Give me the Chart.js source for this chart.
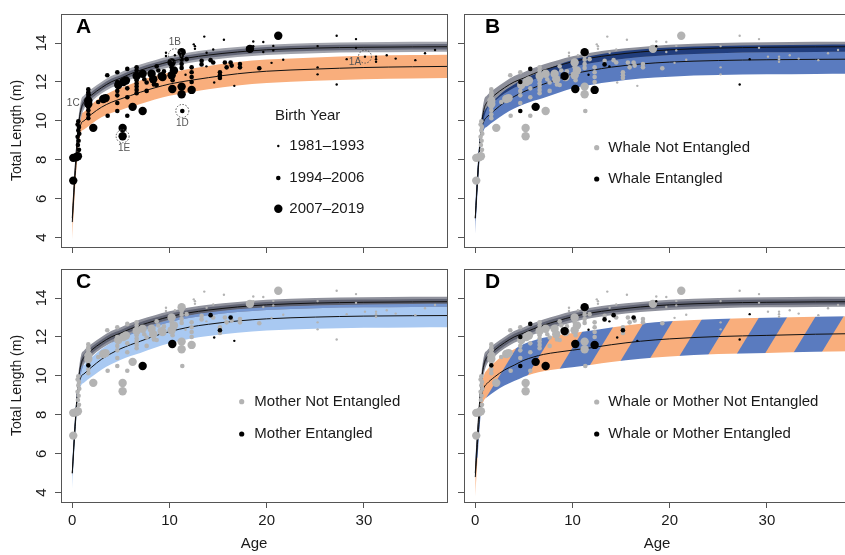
<!DOCTYPE html>
<html lang="en">
<head>
<meta charset="UTF-8" />
<title>Total length by age</title>
<script src="https://cdn.jsdelivr.net/npm/chart.js"></script>
<style>
  html, body { margin: 0; padding: 0; background: #fff; overflow: hidden; }
  #wrap { position: relative; width: 845px; height: 555px; overflow: hidden; }
  canvas { position: absolute; }
</style>
</head>
<body>
<div id="wrap">
  <canvas id="panelA" width="452" height="262" style="left:0;top:0"></canvas>
  <canvas id="panelB" width="452" height="262" style="left:403px;top:0"></canvas>
  <canvas id="panelC" width="452" height="300" style="left:0;top:255px"></canvas>
  <canvas id="panelD" width="452" height="300" style="left:403px;top:255px"></canvas>
</div>
<script>
// axis ticks
const xTicks = [0, 10, 20, 30];
const yTicks = [4, 6, 8, 10, 12, 14];

// fitted growth curves at these ages
const curveAge = [0, 0.3, 0.6, 0.9, 1.2, 2, 3, 4, 5, 6, 7, 8.5, 10, 12, 14, 17, 20, 25, 30, 35, 39];
const curveGray    = [5.0, 7.6, 9.6, 10.6, 10.95, 11.33, 11.7, 12.0, 12.2, 12.42, 12.6, 12.83, 13.04, 13.24, 13.38, 13.54, 13.65, 13.74, 13.78, 13.8, 13.81];
const curveOrangeA = [4.8, 7.2, 9.0, 9.85, 10.0, 10.35, 10.7, 10.95, 11.13, 11.3, 11.47, 11.7, 11.89, 12.07, 12.22, 12.42, 12.55, 12.66, 12.74, 12.78, 12.8];
const curveBlueB   = [5.0, 7.5, 9.4, 10.0, 10.2, 10.55, 10.95, 11.25, 11.5, 11.7, 11.88, 12.15, 12.4, 12.6, 12.76, 12.92, 13.02, 13.1, 13.14, 13.16, 13.17];
const curveBlueC   = [5.0, 7.4, 9.3, 9.95, 10.1, 10.45, 10.85, 11.15, 11.4, 11.6, 11.78, 12.05, 12.27, 12.5, 12.65, 12.82, 12.93, 13.02, 13.07, 13.09, 13.1];
const curveStripeD = [4.8, 7.0, 8.8, 9.4, 9.6, 9.95, 10.3, 10.55, 10.8, 10.97, 11.1, 11.22, 11.32, 11.45, 11.6, 11.78, 11.9, 12.02, 12.08, 12.14, 12.17];

// half widths of the shaded bands
const halfGrayOuter = [0.2, 0.3, 0.35, 0.45, 0.35, 0.32, 0.3, 0.3, 0.3, 0.3, 0.3, 0.29, 0.28, 0.27, 0.27, 0.26, 0.26, 0.26, 0.26, 0.26, 0.26];
const halfGrayInner = [0.1, 0.15, 0.18, 0.2, 0.18, 0.17, 0.16, 0.16, 0.16, 0.16, 0.16, 0.15, 0.15, 0.15, 0.14, 0.14, 0.14, 0.14, 0.14, 0.14, 0.14];
const halfOrangeA   = [0.9, 0.6, 0.5, 0.45, 0.45, 0.5, 0.52, 0.55, 0.57, 0.58, 0.6, 0.6, 0.6, 0.6, 0.6, 0.6, 0.6, 0.6, 0.6, 0.6, 0.6];
const halfBlueB     = [0.8, 0.6, 0.5, 0.45, 0.5, 0.55, 0.6, 0.62, 0.65, 0.67, 0.7, 0.72, 0.73, 0.74, 0.75, 0.75, 0.75, 0.75, 0.75, 0.75, 0.75];
const halfBlueC     = [0.8, 0.55, 0.45, 0.45, 0.45, 0.5, 0.53, 0.55, 0.57, 0.58, 0.6, 0.6, 0.6, 0.6, 0.6, 0.6, 0.6, 0.6, 0.6, 0.6, 0.6];
const halfStripeD   = [1.0, 0.7, 0.6, 0.65, 0.7, 0.75, 0.8, 0.82, 0.84, 0.85, 0.86, 0.87, 0.88, 0.88, 0.89, 0.9, 0.9, 0.9, 0.9, 0.9, 0.9];

// measured whales by birth cohort; ent: 0 none, 1 whale entangled, 2 mother entangled, 3 both
const cohortLabels = ['1981–1993', '1994–2006', '2007–2019'];

const ageEarly = [0.51, 1.82, 9.64, 9.64, 10.56, 11.65, 12.5, 12.62, 12.62, 13.58, 13.8, 13.82, 14.5, 14.6, 15.6, 16.67, 18.62, 18.62, 19.65, 19.65, 20.5, 20.68, 20.68, 21.7, 25.24, 25.24, 25.24, 27.2, 27.2, 28.23, 29.19, 29.19, 30.11, 31.25, 31.25, 31.25, 32.35, 33.27, 35.29, 36.29, 37.32];
const lenEarly = [8.35, 11.34, 13.5, 13.33, 13.37, 12.37, 13.93, 13.83, 13.7, 14.33, 12.8, 13.5, 13.67, 11.97, 14.17, 11.8, 14.08, 13.83, 14.05, 13.54, 12.98, 13.85, 13.62, 13.14, 13.84, 12.75, 12.39, 14.37, 11.87, 13.17, 14.2, 13.75, 13.3, 13.3, 13.17, 13.04, 13.37, 13.2, 13.12, 13.47, 13.64];
const entEarly = [0, 0, 0, 0, 0, 1, 0, 0, 0, 0, 1, 0, 0, 2, 0, 2, 0, 1, 0, 0, 0, 0, 0, 0, 0, 0, 0, 0, 1, 1, 0, 0, 0, 0, 0, 0, 0, 0, 0, 0, 0];

const ageMid = [0.62, 0.55, 0.69, 0.62, 0.72, 0.55, 0.65, 0.58, 0.69, 1.65, 1.65, 1.65, 1.65, 1.65, 1.65, 1.65, 1.65, 2.67, 3.6, 3.64, 4.63, 4.63, 4.63, 4.63, 4.63, 4.63, 5.66, 5.66, 5.66, 5.66, 6.62, 6.62, 6.62, 6.62, 6.62, 6.62, 6.62, 6.62, 6.62, 7.41, 7.65, 7.65, 8.4, 8.68, 8.68, 8.85, 9.43, 10.22, 10.32, 11.25, 11.25, 11.25, 11.25, 11.32, 11.76, 12.28, 12.28, 12.28, 12.28, 13.31, 13.3, 14.23, 14.5, 15.19, 15.19, 15.19, 15.7, 15.88, 16.29, 16.4, 17.25, 17.25, 18.1, 19.24];
const lenMid = [9.98, 9.81, 9.68, 9.51, 9.34, 9.18, 8.98, 8.76, 8.51, 11.62, 11.47, 11.34, 11.21, 10.71, 10.54, 10.34, 10.14, 10.97, 12.34, 10.26, 12.5, 12.0, 11.54, 11.31, 10.92, 10.51, 12.67, 11.67, 11.21, 10.26, 12.75, 12.59, 12.42, 12.25, 12.09, 11.92, 11.76, 11.59, 11.42, 12.14, 11.97, 11.54, 11.87, 12.8, 11.84, 12.59, 12.54, 12.75, 12.09, 13.33, 13.14, 12.92, 12.72, 10.51, 13.17, 12.75, 12.5, 12.25, 12.0, 13.09, 12.9, 13.12, 13.0, 12.5, 12.34, 12.2, 13.0, 12.75, 13.0, 12.84, 12.92, 12.75, 13.67, 12.7];
const entMid = [0, 0, 0, 0, 0, 0, 0, 0, 0, 0, 0, 0, 0, 0, 2, 0, 0, 0, 0, 0, 0, 1, 0, 0, 0, 1, 1, 0, 0, 0, 0, 0, 0, 0, 0, 0, 0, 0, 0, 0, 0, 0, 0, 0, 0, 0, 0, 0, 0, 0, 0, 0, 0, 0, 0, 0, 0, 0, 0, 0, 1, 2, 0, 0, 2, 0, 0, 0, 2, 0, 0, 0, 0, 0];

const ageLate = [0.1, 0.1, 0.38, 0.58, 1.65, 1.65, 2.16, 3.19, 3.43, 4.73, 5.18, 5.18, 5.25, 5.52, 6.21, 6.62, 7.24, 7.24, 8.16, 8.33, 9.19, 9.29, 10.22, 10.22, 10.29, 10.46, 11.25, 11.25, 11.25, 12.28, 18.28, 21.19];
const lenLate = [6.93, 8.1, 8.13, 8.18, 11.04, 10.87, 9.64, 11.12, 11.17, 11.84, 9.63, 9.21, 12.0, 12.07, 10.72, 12.3, 10.51, 12.42, 12.42, 12.14, 12.3, 12.25, 13.0, 12.34, 11.64, 12.59, 13.53, 11.76, 11.37, 11.59, 13.7, 14.37];
const entLate = [0, 0, 0, 0, 0, 0, 0, 0, 0, 0, 0, 0, 0, 0, 1, 0, 2, 0, 0, 0, 1, 0, 0, 0, 3, 0, 1, 0, 0, 1, 0, 0];

// labelled whales in panel A
const annLabel = ['1A', '1B', '1C', '1D', '1E'];
const annAge = [30.11, 10.56, 0.1, 11.32, 5.18];
const annLen = [13.3, 13.37, 10.91, 10.51, 9.21];
const annCircled = [true, true, false, true, true];

Chart.defaults.font.family = '"Liberation Sans", Arial, Helvetica, sans-serif';
Chart.defaults.animation = false;

const xMin = -1.16, xMax = 38.55, yMin = 3.52, yMax = 15.49;
const dotRadius = [1.2, 2.3, 4.2];
const GRAY_DOT = '#b3b3b3';
const ORANGE = '#f9ae7c';
const BLUE = '#5a7bbf';

function xy(xs, ys) { return xs.map((x, i) => ({ x: x, y: ys[i] })); }

function band(lo, hi, color, order) {
  return [
    { data: xy(curveAge, lo), borderWidth: 0, pointRadius: 0, fill: false, order: order, cubicInterpolationMode: 'monotone' },
    { data: xy(curveAge, hi), borderWidth: 0, pointRadius: 0, fill: '-1', backgroundColor: color, order: order, cubicInterpolationMode: 'monotone' }
  ];
}
function around(center, half, color, order) {
  return band(center.map((v, i) => v - half[i]), center.map((v, i) => v + half[i]), color, order);
}
function overlap(center, half, color, order) {
  const lo = curveGray.map((g, i) => g - halfGrayOuter[i]);
  const hi = curveGray.map((g, i) => Math.max(lo[i], Math.min(g + halfGrayOuter[i], center[i] + half[i])));
  return band(lo, hi, color, order);
}
function line(ys) {
  return { data: xy(curveAge, ys), borderColor: '#111', borderWidth: 1, pointRadius: 0, fill: false, order: 20, cubicInterpolationMode: 'monotone' };
}
function dots(test, color, order) {
  const data = [], radius = [];
  const ages = [ageEarly, ageMid, ageLate], lens = [lenEarly, lenMid, lenLate], ents = [entEarly, entMid, entLate];
  ages.forEach((list, c) => list.forEach((a, i) => {
    if (test(ents[c][i])) { data.push({ x: a, y: lens[c][i] }); radius.push(dotRadius[c]); }
  }));
  return { data: data, showLine: false, pointRadius: radius, pointHoverRadius: radius, pointBackgroundColor: color, pointBorderWidth: 0, borderWidth: 0, order: order };
}

// diagonal orange/blue stripes for the combined band in D
function stripePattern() {
  const w = 56, h = 92, phase = 2;
  const c = document.createElement('canvas');
  c.width = w; c.height = h;
  const g = c.getContext('2d');
  g.fillStyle = ORANGE;
  g.fillRect(0, 0, w, h);
  g.fillStyle = BLUE;
  for (let k = -2; k <= 2; k++) {
    const a = k * w + phase;
    g.beginPath();
    g.moveTo(a, h); g.lineTo(a + w / 2, h); g.lineTo(a + w / 2 + w, 0); g.lineTo(a + w, 0);
    g.closePath(); g.fill();
  }
  return g.createPattern(c, 'repeat');
}

function decor(cfg) {
  return {
    id: 'decor',
    afterDraw(chart) {
      const ctx = chart.ctx, a = chart.chartArea;
      const sx = chart.scales.x, sy = chart.scales.y;
      ctx.save();
      ctx.strokeStyle = '#555';
      ctx.lineWidth = 1;
      ctx.strokeRect(Math.round(a.left) + 0.5, Math.round(a.top) + 0.5, Math.round(a.right - a.left), Math.round(a.bottom - a.top));

      ctx.fillStyle = '#000';
      ctx.font = 'bold 21px "Liberation Sans", Arial, sans-serif';
      ctx.textAlign = 'left';
      ctx.textBaseline = 'alphabetic';
      ctx.fillText(cfg.letter, cfg.letterX, 33);

      ctx.font = '15px "Liberation Sans", Arial, sans-serif';
      ctx.textBaseline = 'middle';
      ctx.fillStyle = '#1a1a1a';
      if (cfg.title) ctx.fillText(cfg.title, cfg.titleX, cfg.titleY);
      cfg.rows.forEach(r => {
        ctx.fillStyle = r.color;
        ctx.beginPath();
        ctx.arc(cfg.dotX, r.y, r.r, 0, Math.PI * 2);
        ctx.fill();
        ctx.fillStyle = '#1a1a1a';
        ctx.fillText(r.label, cfg.textX, r.y);
      });

      if (cfg.notes) {
        const shift = { '1A': [-10, 6], '1B': [0, -13], '1C': [0, 0], '1D': [0, 12], '1E': [1.5, 12] };
        ctx.font = '10px "Liberation Sans", Arial, sans-serif';
        ctx.textAlign = 'center';
        annLabel.forEach((lab, i) => {
          const px = sx.getPixelForValue(annAge[i]), py = sy.getPixelForValue(annLen[i]);
          if (annCircled[i]) {
            ctx.strokeStyle = '#555';
            ctx.setLineDash([1.5, 1.5]);
            ctx.beginPath();
            ctx.arc(px, py, 6.5, 0, Math.PI * 2);
            ctx.stroke();
            ctx.setLineDash([]);
          }
          ctx.fillStyle = '#555';
          ctx.fillText(lab, px + shift[lab][0], py + shift[lab][1]);
        });
      }
      ctx.restore();
    }
  };
}

function makeScales(yLabels, xLabels) {
  return {
    x: {
      type: 'linear', min: xMin, max: xMax,
      afterBuildTicks: s => { s.ticks = xTicks.map(v => ({ value: v })); },
      afterFit: s => { s.height = xLabels ? 53 : 15; },
      grid: { drawOnChartArea: false, tickLength: 6, color: '#555' },
      border: { display: false },
      ticks: { color: xLabels ? '#1a1a1a' : 'rgba(0,0,0,0)', font: { size: 15 }, padding: 4, maxRotation: 0, autoSkip: false },
      title: { display: xLabels, text: 'Age', color: '#1a1a1a', font: { size: 15 }, padding: { top: 0, bottom: 2 } }
    },
    y: {
      type: 'linear', min: yMin, max: yMax,
      afterBuildTicks: s => { s.ticks = yTicks.map(v => ({ value: v })); },
      afterFit: s => { s.width = 61; },
      grid: { drawOnChartArea: false, tickLength: 6, color: '#555' },
      border: { display: false },
      ticks: { color: yLabels ? '#1a1a1a' : 'rgba(0,0,0,0)', font: { size: 15 }, padding: 5, minRotation: 90, maxRotation: 90, crossAlign: 'center', autoSkip: false },
      title: { display: yLabels, text: 'Total Length (m)', color: '#1a1a1a', font: { size: 14 }, padding: { top: 9, bottom: 0 } }
    }
  };
}

function panel(id, datasets, yLabels, xLabels, cfg) {
  new Chart(document.getElementById(id), {
    type: 'line',
    data: { datasets: datasets },
    options: {
      responsive: false,
      devicePixelRatio: 1,
      events: [],
      layout: { padding: { top: 7, right: 5, left: 0, bottom: 0 } },
      plugins: { legend: { display: false }, tooltip: { enabled: false } },
      scales: makeScales(yLabels, xLabels)
    },
    plugins: [decor(cfg)]
  });
}

// A: birth cohorts
panel('panelA', [
  ...around(curveOrangeA, halfOrangeA, ORANGE, 40),
  ...around(curveGray, halfGrayOuter, '#a2a4ad', 39),
  ...around(curveGray, halfGrayInner, '#646777', 38),
  line(curveOrangeA), line(curveGray),
  dots(() => true, '#000', 5)
], true, false, {
  letter: 'A', letterX: 76, title: 'Birth Year', titleX: 275, titleY: 116, dotX: 278.3, textX: 289.3, notes: true,
  rows: cohortLabels.map((l, i) => ({ label: l, color: '#000', r: dotRadius[i], y: [146, 178, 208.7][i] }))
});

// B: whale entangled
panel('panelB', [
  ...around(curveBlueB, halfBlueB, BLUE, 40),
  ...around(curveGray, halfGrayOuter, '#8e909b', 39),
  ...overlap(curveBlueB, halfBlueB, '#213d7c', 38),
  line(curveBlueB), line(curveGray),
  dots(e => e !== 1 && e !== 3, GRAY_DOT, 6),
  dots(e => e === 1 || e === 3, '#000', 5)
], false, false, {
  letter: 'B', letterX: 82, dotX: 193.7, textX: 205.3,
  rows: [{ label: 'Whale Not Entangled', color: GRAY_DOT, r: 2.6, y: 147.7 }, { label: 'Whale Entangled', color: '#000', r: 2.6, y: 179 }]
});

// C: mother entangled
panel('panelC', [
  ...around(curveBlueC, halfBlueC, '#a9c9f2', 40),
  ...around(curveGray, halfGrayOuter, '#8f919c', 39),
  ...around(curveGray, halfGrayInner, '#5f6272', 38),
  ...overlap(curveBlueC, halfBlueC, '#7596d0', 37),
  line(curveBlueC), line(curveGray),
  dots(e => e !== 2 && e !== 3, GRAY_DOT, 6),
  dots(e => e === 2 || e === 3, '#000', 5)
], true, true, {
  letter: 'C', letterX: 76, dotX: 241.7, textX: 254.3,
  rows: [{ label: 'Mother Not Entangled', color: GRAY_DOT, r: 2.6, y: 146.7 }, { label: 'Mother Entangled', color: '#000', r: 2.6, y: 179 }]
});

// D: whale or mother entangled
panel('panelD', [
  ...around(curveStripeD, halfStripeD, stripePattern(), 40),
  ...around(curveGray, halfGrayOuter, '#8f919c', 39),
  ...around(curveGray, halfGrayInner, '#5f6272', 38),
  line(curveStripeD), line(curveGray),
  dots(e => e === 0, GRAY_DOT, 6),
  dots(e => e !== 0, '#000', 5)
], false, true, {
  letter: 'D', letterX: 82, dotX: 193.7, textX: 205.3,
  rows: [{ label: 'Whale or Mother Not Entangled', color: GRAY_DOT, r: 2.6, y: 147 }, { label: 'Whale or Mother Entangled', color: '#000', r: 2.6, y: 179 }]
});
</script>
</body>
</html>
